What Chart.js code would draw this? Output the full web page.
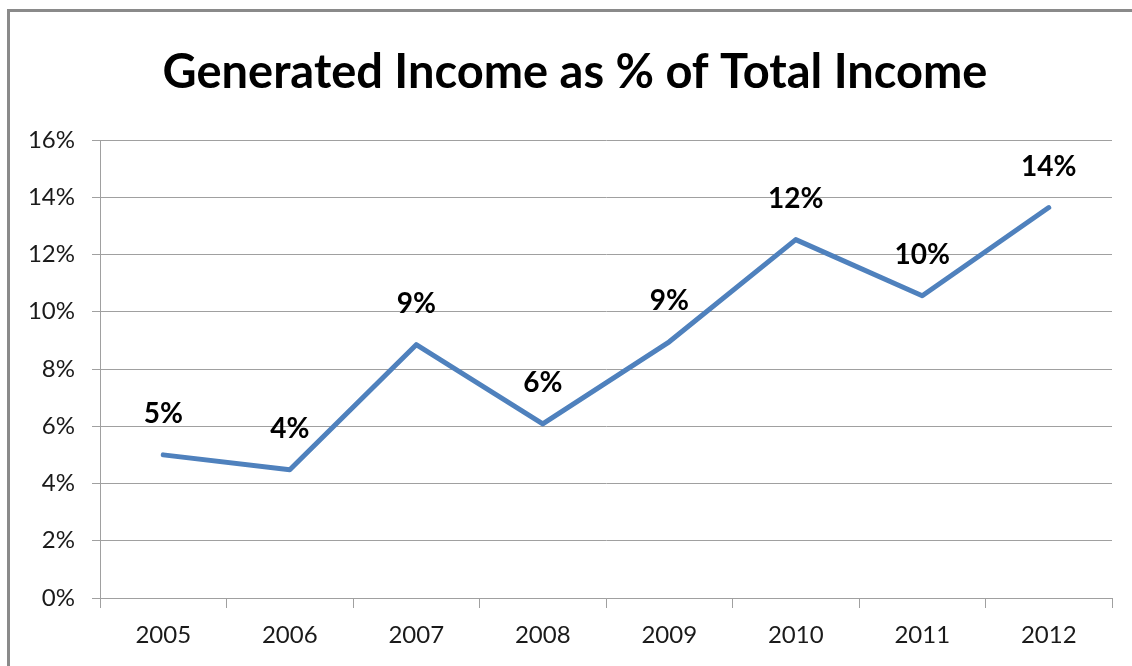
<!DOCTYPE html>
<html>
<head>
<meta charset="utf-8">
<script src="https://cdn.jsdelivr.net/npm/chart.js@4.4.1/dist/chart.umd.min.js"></script>
<style>
  html, body { margin: 0; padding: 0; background: #fff; }
  #wrap { position: relative; width: 1132px; height: 666px; overflow: hidden; }
  #frame { position: absolute; left: 7px; top: 9px; right: -10px; bottom: -10px;
           border-top: 3px solid #8a8a8a; border-left: 3px solid #8a8a8a; }
  #c { position: absolute; left: 0; top: 0; }
</style>
</head>
<body>
<div id="wrap">
  <div id="frame"></div>
  <canvas id="c" width="1132" height="666"></canvas>
</div>
<script>
// data
const years = ["2005", "2006", "2007", "2008", "2009", "2010", "2011", "2012"];
const incomePct = [5.0, 4.48, 8.85, 6.08, 8.95, 12.52, 10.56, 13.64];
const pointLabels = ["5%", "4%", "9%", "6%", "9%", "12%", "10%", "14%"];
const yTicks = [0, 2, 4, 6, 8, 10, 12, 14, 16];
const titleText = "Generated Income as % of Total Income";

const FONT = "Lato, 'Open Sans', sans-serif";

/* labels above each point */
const valueLabels = {
  id: 'valueLabels',
  afterDatasetsDraw(chart) {
    const ctx = chart.ctx;
    const meta = chart.getDatasetMeta(0);
    ctx.save();
    ctx.font = "bold 28px " + FONT;
    ctx.fillStyle = '#000000';
    ctx.textAlign = 'center';
    ctx.textBaseline = 'middle';
    meta.data.forEach((pt, i) => {
      ctx.fillText(pointLabels[i], pt.x, pt.y - 41);
    });
    ctx.restore();
  }
};

/* title, centred a little right of the canvas middle like the original */
const bigTitle = {
  id: 'bigTitle',
  afterDraw(chart) {
    const ctx = chart.ctx;
    ctx.save();
    ctx.font = "bold 47px " + FONT;
    ctx.fillStyle = '#000000';
    ctx.textAlign = 'center';
    ctx.textBaseline = 'middle';
    ctx.fillText(titleText, chart.width / 2 + 9, 73);
    ctx.restore();
  }
};

const ctx = document.getElementById('c').getContext('2d');

const lineChart = new Chart(ctx, {
  type: 'line',
  data: {
    labels: years,
    datasets: [{
      label: "Generated Income",
      data: incomePct,
      borderColor: '#4f81bd',
      borderWidth: 5,
      pointRadius: 0,
      borderJoinStyle: 'round',
      borderCapStyle: 'round',
      tension: 0,
      fill: false
    }]
  },
  options: {
    responsive: false,
    animation: false,
    devicePixelRatio: 1,
    layout: { padding: { left: 0, right: 20, top: 140, bottom: 0 } },
    plugins: {
      legend: { display: false },
      tooltip: { enabled: false },
      title: { display: false }
    },
    scales: {
      x: {
        offset: true,
        grid: {
          offset: true,
          drawOnChartArea: false,
          drawTicks: true,
          tickLength: 10,
          color: '#a0a0a0'
        },
        border: { color: '#a0a0a0', width: 1 },
        ticks: {
          color: '#1a1a1a',
          padding: 13,
          font: { family: FONT, size: 24 }
        },
        afterFit(scale) { scale.height = 68; }
      },
      y: {
        min: 0,
        max: 16,
        afterBuildTicks(scale) {
          scale.ticks = yTicks.map(v => ({ value: v }));
        },
        grid: {
          color: '#a0a0a0',
          tickLength: 8,
          drawTicks: true
        },
        border: { color: '#a0a0a0', width: 1 },
        ticks: {
          color: '#1a1a1a',
          padding: 17,
          font: { family: FONT, size: 24 },
          callback: v => v + '%'
        },
        afterFit(scale) { scale.width = 100; }
      }
    }
  },
  plugins: [valueLabels, bigTitle]
});
</script>
</body>
</html>
